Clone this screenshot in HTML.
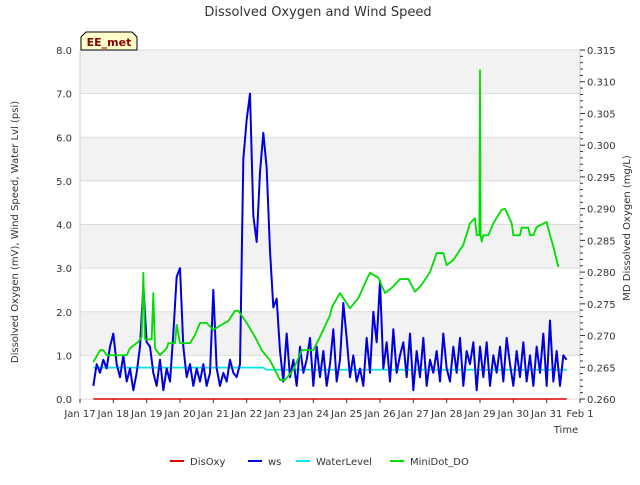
<!DOCTYPE html>
<html><head><meta charset="utf-8"><style>
body{margin:0;background:#fff;font-family:"Liberation Sans","DejaVu Sans",sans-serif}
svg text{font-family:"DejaVu Sans","Liberation Sans",sans-serif}
</style></head><body>
<svg id="c" width="640" height="480" xmlns="http://www.w3.org/2000/svg"></svg>
<script>
const dayTicks=["Jan 17","Jan 18","Jan 19","Jan 20","Jan 21","Jan 22","Jan 23","Jan 24","Jan 25","Jan 26","Jan 27","Jan 28","Jan 29","Jan 30","Jan 31","Feb 1"];
const leftTicks=[0,1,2,3,4,5,6,7,8];
const rightTicks=[0.26,0.265,0.27,0.275,0.28,0.285,0.29,0.295,0.30,0.305,0.31,0.315];
const wsStart=17.4, wsStep=0.1;
const wsValues=[0.3,0.8,0.6,0.9,0.7,1.2,1.5,
0.8,0.5,1.0,0.4,0.7,0.2,0.6,1.2,2.6,1.3,
1.2,0.6,0.3,0.9,0.2,0.7,0.4,1.5,2.8,3.0,
1.2,0.5,0.8,0.3,0.7,0.4,0.8,0.3,0.6,2.5,
0.7,0.3,0.6,0.4,0.9,0.6,0.5,0.8,5.5,6.4,
7.0,4.2,3.6,5.2,6.1,5.3,3.4,2.1,2.3,1.1,
0.4,1.5,0.5,0.9,0.3,1.2,0.6,0.9,1.4,0.3,
1.2,0.5,1.1,0.3,0.8,1.6,0.4,0.9,2.2,1.4,
0.5,1.0,0.4,0.7,0.3,1.4,0.6,2.0,1.3,2.7,
0.7,1.3,0.4,1.6,0.6,1.0,1.3,0.5,1.5,0.2,
1.1,0.5,1.4,0.3,0.9,0.6,1.1,0.4,1.5,0.7,
0.4,1.2,0.6,1.4,0.3,1.1,0.8,1.3,0.2,1.2,
0.5,1.3,0.3,1.0,0.6,1.2,0.4,1.4,0.8,0.3,
1.1,0.5,1.3,0.4,1.0,0.3,1.2,0.6,1.5,0.3,
1.8,0.4,1.1,0.3,1.0,0.9];
const wlTimes=[17.4,22.5,22.6,31.6];
const wlValues=[0.72,0.72,0.67,0.67];
const doTimes=[17.4,17.6,17.7,17.8,18.4,18.5,18.75,18.85,18.9,18.95,19.15,19.2,19.25,19.4,19.6,19.65,19.85,19.9,20.0,20.3,20.45,20.6,20.8,21.0,21.25,21.45,21.65,21.75,22.0,22.25,22.45,22.7,23.0,23.15,23.4,23.65,24.0,24.2,24.5,24.56,24.8,25.1,25.35,25.6,25.7,25.95,26.15,26.35,26.6,26.85,27.05,27.25,27.5,27.7,27.9,28.0,28.2,28.5,28.7,28.85,28.9,28.98,29.0,29.02,29.05,29.1,29.25,29.4,29.65,29.75,29.95,30.0,30.2,30.25,30.45,30.5,30.6,30.7,31.0,31.05,31.2,31.35];
const doValues=[0.2658,0.2677,0.2677,0.2669,0.2669,0.268,0.269,0.2698,0.2799,0.2694,0.2694,0.2767,0.268,0.2669,0.268,0.2688,0.2688,0.2717,0.2688,0.2688,0.2701,0.272,0.272,0.2709,0.2717,0.2723,0.2739,0.2739,0.272,0.2698,0.2677,0.2661,0.263,0.263,0.2646,0.2677,0.2677,0.2698,0.2732,0.2745,0.2767,0.2743,0.2759,0.2788,0.2799,0.2791,0.2767,0.2775,0.2789,0.2789,0.2769,0.278,0.280,0.283,0.283,0.2811,0.2819,0.2843,0.2877,0.2885,0.2858,0.2858,0.3118,0.2858,0.2848,0.2858,0.2858,0.2877,0.2898,0.290,0.2877,0.2858,0.2858,0.287,0.287,0.2858,0.2858,0.2871,0.2879,0.2868,0.284,0.2808];
const disTimes=[17.4,31.6];
const disValues=[0,0];

const L=80,R=580,T=50,B=399;
const X=d=>L+(d-17)/15*(R-L);
const Y=v=>B-v/8*(B-T);
const Y2=v=>B-(v-0.26)/0.055*(B-T);
const svg=document.getElementById('c');
const NS='http://www.w3.org/2000/svg';
function mk(tag,attrs,parent){const e=document.createElementNS(NS,tag);for(const k in attrs)e.setAttribute(k,attrs[k]);(parent||svg).appendChild(e);return e;}

let bg=mk('rect',{x:L,y:T,width:R-L,height:B-T,fill:'#fff'});


for(let i=1;i<8;i+=2){let b=mk('rect',{x:L,y:Y(i+1),width:R-L,height:Y(i)-Y(i+1),fill:'#f2f2f2'});

}
leftTicks.forEach(v=>{mk('line',{x1:L,x2:R,y1:Y(v),y2:Y(v),stroke:'#dcdcdc','stroke-width':1});
let t=mk('text',{x:L-8,y:Y(v)+4,'text-anchor':'end','font-size':10,fill:'#333'});t.textContent=v.toFixed(1);

});
mk('line',{x1:L,x2:L,y1:T,y2:B,stroke:'#ccc'});
mk('line',{x1:R,x2:R,y1:T,y2:B,stroke:'#ccc'});
dayTicks.forEach((s,i)=>{let x=X(17+i);mk('line',{x1:x,x2:x,y1:B,y2:B+4,stroke:'#333'});
let t=mk('text',{x:x,y:B+18,'text-anchor':'middle','font-size':10,fill:'#333'});t.textContent=s;

});
for(let k=0;k<=55;k++){let v=0.26+k*0.001;let maj=k%5==0;mk('line',{x1:R,x2:R+(maj?5:3),y1:Y2(v),y2:Y2(v),stroke:'#333'});}
rightTicks.forEach(v=>{let t=mk('text',{x:R+7,y:Y2(v)+4,'font-size':10,fill:'#333'});t.textContent=v.toFixed(3);

});

function line(pts,color,w,name){let p=mk('polyline',{points:pts.map(q=>q.join(',')).join(' '),fill:'none',stroke:color,'stroke-width':w,'stroke-linejoin':'round'});

}
line(disTimes.map((t,i)=>[X(t),Y(disValues[i])]),'#dd0000',1.5,'disoxy-line');
line(wlTimes.map((t,i)=>[X(t),Y(wlValues[i])]),'#00e5ee',1.8,'waterlevel-line');
line(wsValues.map((v,i)=>[X(wsStart+i*wsStep),Y(v)]),'#0000dd',2,'ws-line');
line(doTimes.map((t,i)=>[X(t),Y2(doValues[i])]),'#00dd00',1.8,'minidot-line');

function txt(s,attrs,name){let t=mk('text',attrs);t.textContent=s;

return t;}
txt('Dissolved Oxygen and Wind Speed',{x:318,y:16,'text-anchor':'middle','font-size':13,fill:'#333'},'chart-title');
txt('Time',{x:566,y:433,'text-anchor':'middle','font-size':10,fill:'#333'},'x-axis-title');
txt('Dissolved Oxygen (mV), Wind Speed, Water Lvl (psi)',{x:0,y:0,'font-size':10,fill:'#333','text-anchor':'middle',transform:'translate(18,232) rotate(-90)'},'y-axis-title');
txt('MD Dissolved Oxygen (mg/L)',{x:0,y:0,'font-size':10,fill:'#333','text-anchor':'middle',transform:'translate(630,228) rotate(-90)'},'right-axis-title');
let tag=mk('path',{d:'M81,50 L81,37 L86,32 L132,32 L137,37 L137,50 Z',fill:'#ffffcc',stroke:'#000'});


txt('EE_met',{x:109,y:46,'text-anchor':'middle','font-size':11,'font-weight':'bold',fill:'#8b0000'},'station-label');
const leg=[['DisOxy','#dd0000',170],['ws','#0000dd',248],['WaterLevel','#00e5ee',296],['MiniDot_DO','#00dd00',390]];
leg.forEach(l=>{let g=mk('g',{});


mk('line',{x1:l[2],x2:l[2]+14,y1:461,y2:461,stroke:l[1],'stroke-width':2},g);
let t=mk('text',{x:l[2]+20,y:465,'font-size':10,fill:'#333'},g);t.textContent=l[0];});
</script>
</body></html>
